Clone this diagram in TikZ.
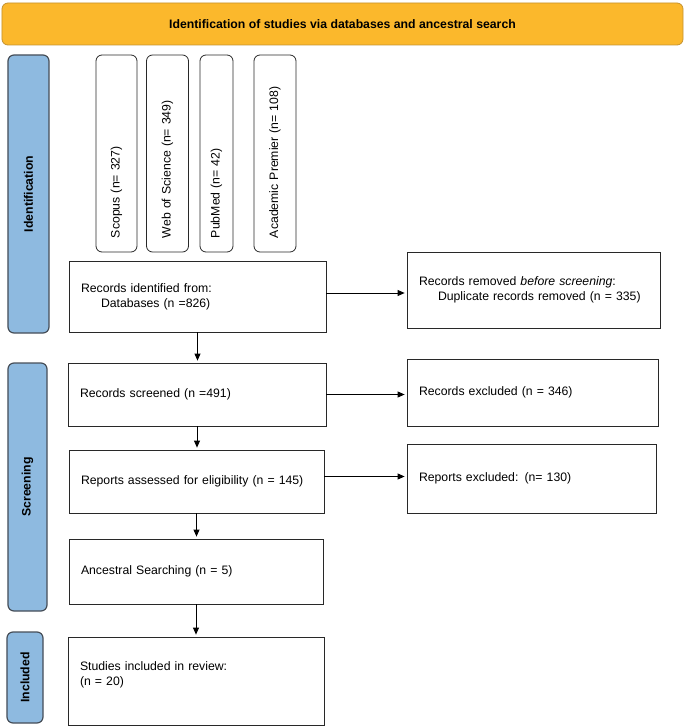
\documentclass[tikz,border=0pt]{standalone}
\usepackage{fontspec}
\setmainfont{Liberation Sans}
\usepackage{xcolor}
\usetikzlibrary{arrows.meta,calc,positioning}

\definecolor{bannerfill}{RGB}{251,184,44}
\definecolor{bannerline}{RGB}{196,146,48}
\definecolor{stagefill}{RGB}{142,186,224}
\definecolor{stageline}{RGB}{70,78,88}
\definecolor{boxline}{RGB}{40,40,40}

\begin{document}
\begin{tikzpicture}[x=1bp,y=-1bp,
        banner/.style={draw=bannerline, fill=bannerfill, rounded corners=6bp, line width=0.8bp, font=\bfseries},
        stage/.style={draw=stageline, fill=stagefill, rounded corners=6bp, line width=1.2bp, rotate=90, inner sep=0pt, font=\bfseries},
        source/.style={draw=boxline, rounded corners=6bp, line width=0.8bp, rotate=90, align=left, inner xsep=14bp, inner ysep=0pt},
        flowbox/.style={draw=boxline, line width=0.8bp, align=left, inner xsep=12bp, inner ysep=0pt},
        flowarrow/.style={-{Triangle[length=7bp,width=6bp]}, line width=0.8bp, shorten >=2bp}]
                \useasboundingbox (0,0) rectangle (685,728);
                {\fontsize{12.3}{15}\selectfont
                
                % Drawing banner
                \node [banner, minimum width=681bp, minimum height=42bp] (title) at (342.5,24) {Identification of studies via databases and ancestral search};
                
                % Drawing stage bars
                \node [stage, minimum width=278bp, minimum height=41bp] (ident) at (28.5,194) {Identification};
                \node [stage, minimum width=248bp, minimum height=39bp] (screen) at (27.5,487) {Screening};
                \node [stage, minimum width=91bp, minimum height=36bp] (incl) at (25,677.5) {Included};
                
                % Drawing databases
                \node [source, minimum width=197bp, minimum height=41bp, text width=169bp] (scopus) at (116.5,153.5) {Scopus (n= 327)};
                \node [source, minimum width=197bp, minimum height=42bp, text width=169bp] (wos) at (167.5,153.5) {Web of Science (n= 349)};
                \node [source, minimum width=197bp, minimum height=33bp, text width=169bp] (pubmed) at (216.5,153.5) {PubMed (n= 42)};
                \node [source, minimum width=197bp, minimum height=42bp, text width=169bp] (acad) at (275,153.5) {Academic Premier (n= 108)};
                
                % Drawing boxes of the main column
                \node [flowbox, minimum width=257bp, minimum height=71bp, text width=233bp] (idb) at (197.5,296.5) {Records identified from:\\\hspace*{20bp}Databases (n =826)};
                \node [flowbox, minimum width=258bp, minimum height=63bp, text width=234bp] (scr) at (197,394.5) {Records screened (n =491)};
                \node [flowbox, minimum width=255bp, minimum height=63bp, text width=231bp] (rep) at (196.5,481.5) {Reports assessed for eligibility (n = 145)};
                \node [flowbox, minimum width=254bp, minimum height=65bp, text width=230bp] (anc) at (196,571.5) {Ancestral Searching (n = 5)};
                \node [flowbox, minimum width=256bp, minimum height=88bp, text width=232bp] (inc) at (196,681) {Studies included in review:\\(n = 20)\\\mbox{}};
                
                % Drawing boxes of the side column
                \node [flowbox, minimum width=253bp, minimum height=76bp, text width=229bp] (rem) at (533.5,290) {Records removed \textit{before screening}:\\\hspace*{19bp}Duplicate records removed (n = 335)};
                \node [flowbox, minimum width=251bp, minimum height=67bp, text width=227bp] (exc) at (532.5,392.5) {Records excluded (n = 346)};
                \node [flowbox, minimum width=249bp, minimum height=69bp, text width=225bp] (rex) at (531.5,478.5) {Reports excluded: (n= 130)};
                
                % Drawing arrows down
                \draw [flowarrow] (idb.south) -- (idb.south |- scr.north);
                \draw [flowarrow] (scr.south) -- (scr.south |- rep.north);
                \draw [flowarrow] (rep.south) -- (rep.south |- anc.north);
                \draw [flowarrow] (anc.south) -- (anc.south |- inc.north);
                
                % Drawing arrows right
                \draw [flowarrow] ([yshift=3.5bp]idb.east) -- ([yshift=3.5bp]idb.east -| rem.west);
                \draw [flowarrow] (scr.east) -- (scr.east -| exc.west);
                \draw [flowarrow] ([yshift=5bp]rep.east) -- ([yshift=5bp]rep.east -| rex.west);
                }
\end{tikzpicture}
\end{document}
